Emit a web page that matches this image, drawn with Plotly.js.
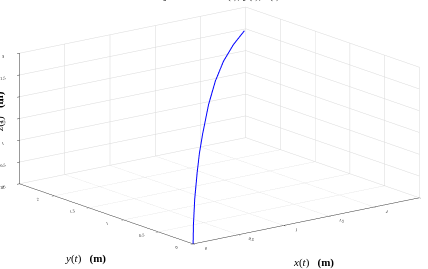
<!DOCTYPE html>
<html>
<head>
<meta charset="utf-8">
<script src="https://cdn.plot.ly/plotly-3.0.1.min.js"></script>
<style>html,body{margin:0;padding:0;background:#fff;}#chart{width:428px;height:269px;}</style>
</head>
<body>
<div id="chart"></div>
<script>
// Trajectory samples
const xVals = [0, 0.014, 0.075, 0.189, 0.297, 0.453, 0.736, 1.052, 1.443, 1.915, 2.434];
const yVals = [0, 0.014, 0.075, 0.189, 0.297, 0.453, 0.736, 1.052, 1.443, 1.915, 2.434];
const zVals = [0, 0.43, 0.96, 1.45, 1.79, 2.09, 2.49, 2.71, 2.79, 2.71, 2.52];

const xTicks = [0, 0.5, 1, 1.5, 2, 2.5];
const yTicks = [0, 0.5, 1, 1.5, 2, 2.5];
const zTicks = [0, 0.5, 1, 1.5, 2, 2.5, 3];

const titleText = 'Trajectoire 3D : x(t), y(t), z(t)';
const xLabel = '<i>x</i>(<i>t</i>)&nbsp;&nbsp;&nbsp;<b>(m)</b>';
const yLabel = '<i>y</i>(<i>t</i>)&nbsp;&nbsp;&nbsp;<b>(m)</b>';
const zLabel = '<i>z</i>(<i>t</i>)&nbsp;&nbsp;&nbsp;<b>(m)</b>';

const axisCommon = {
  showbackground: false,
  gridcolor: '#d9d9d9',
  gridwidth: 1,
  showline: true,
  linecolor: '#333',
  linewidth: 1,
  zeroline: false,
  ticks: 'outside',
  ticklen: 3,
  tickcolor: '#333',
  tickfont: {family: 'Liberation Serif', size: 7, color: '#000'},
  showspikes: false,
  title: {text: ''}
};

const trace = {
  type: 'scatter3d',
  mode: 'lines',
  x: xVals, y: yVals, z: zVals,
  line: {color: '#0000ff', width: 2},
  hoverinfo: 'skip'
};

const zoom = 2.12;
const cx = -0.043, cy = 0.0106, cz = -0.0645;
const layout = {
  width: 428, height: 269,
  margin: {l: 0, r: 0, t: 0, b: 0},
  paper_bgcolor: '#fff',
  showlegend: false,
  scene: {
    domain: {x: [0, 1], y: [0, 1]},
    xaxis: Object.assign({}, axisCommon, {range: [0, 2.5], tickvals: xTicks, ticktext: xTicks.map(String)}),
    yaxis: Object.assign({}, axisCommon, {range: [0, 2.5], tickvals: yTicks, ticktext: yTicks.map(String)}),
    zaxis: Object.assign({}, axisCommon, {range: [0, 3], tickvals: zTicks, ticktext: zTicks.map(String)}),
    aspectmode: 'manual',
    aspectratio: {x: zoom, y: zoom, z: 0.475 * zoom},
    camera: {
      projection: {type: 'orthographic'},
      up: {x: 0, y: 0, z: 1},
      center: {x: cx, y: cy, z: cz},
      eye: {x: -0.587 * 1.8 + cx, y: -0.765 * 1.8 + cy, z: 0.266 * 1.8 + cz}
    }
  },
  annotations: [
    {xref: 'paper', yref: 'paper', x: 0.5, y: 1, yanchor: 'bottom', yshift: -4, text: titleText, showarrow: false,
     font: {family: 'Liberation Serif', size: 11, color: '#000'}},
    {xref: 'paper', yref: 'paper', x: 313 / 428, y: 1 - 262 / 269, xanchor: 'center', yanchor: 'middle', text: xLabel, showarrow: false,
     font: {family: 'Liberation Serif', size: 11, color: '#000'}},
    {xref: 'paper', yref: 'paper', x: 85 / 428, y: 1 - 258 / 269, xanchor: 'center', yanchor: 'middle', text: yLabel, showarrow: false,
     font: {family: 'Liberation Serif', size: 11, color: '#000'}},
    {xref: 'paper', yref: 'paper', x: -1 / 428, y: 1 - 112 / 269, xanchor: 'center', yanchor: 'middle', text: zLabel, showarrow: false, textangle: -90,
     font: {family: 'Liberation Serif', size: 11, color: '#000'}}
  ]
};

Plotly.newPlot('chart', [trace], layout, {displayModeBar: false});
</script>
</body>
</html>
